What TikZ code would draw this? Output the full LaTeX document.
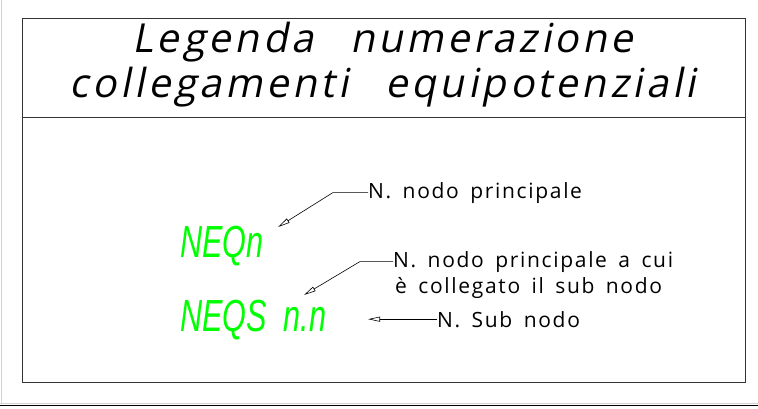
\documentclass[tikz,border=0pt]{standalone}
\usepackage{fontspec}
\usepackage{xcolor}
\usetikzlibrary{arrows.meta,positioning}

\newfontfamily\titlefont[FakeSlant=0.2,LetterSpace=9.2,WordSpace=1.3]{Open Sans}
\newfontfamily\notefont[LetterSpace=8,WordSpace=1.6]{Open Sans}
\newfontfamily\codefont[FakeStretch=0.68]{Liberation Sans}
\definecolor{cadgreen}{RGB}{0,255,0}

\begin{document}
\begin{tikzpicture}[x=1pt,y=-1pt,>={Triangle[open,length=12pt,width=5pt]},
    title text/.style={font=\titlefont\fontsize{40}{48}\selectfont,inner sep=0pt,anchor=base},
    code text/.style={font=\codefont\itshape\fontsize{45}{50}\selectfont,text=cadgreen,inner sep=0pt,anchor=base west},
    note text/.style={font=\notefont\fontsize{21}{26}\selectfont,inner sep=0pt,anchor=base west},
    leader/.style={->,line width=0.6pt}]

    \useasboundingbox (0,0) rectangle (758,408);

    % sheet edges
    \draw[gray!35] (1,0) -- (1,404);
    \draw[gray!35] (0,403.5) -- (758,403.5);
    \draw[line width=1.2pt] (0,405.5) -- (758,405.5);

    % legend frame
    \draw[line width=0.8pt,black!80] (22,18) rectangle (745,382);
    \draw[line width=0.8pt,black!80] (22,117) -- (745,117);

    \node[title text] (title1) at (383,52) {Legenda\ \ numerazione};
    \node[title text] (title2) at (383,97) {collegamenti\ \ equipotenziali};

    % node codes
    \node[code text] (neqn) at (180,257) {NEQn};
    \node[code text] (neqs) at (180,331) {NEQS\ \ n.n};

    % notes
    \node[note text] (main) at (368,198) {N. nodo principale};
    \node[note text] (link) at (393,267) {N. nodo principale a cui};
    \node[note text] (link2) at (395,293) {è collegato il sub nodo};
    \node[note text] (sub) at (437,327) {N. Sub nodo};

    \coordinate (main bend) at ([xshift=-35pt]main.west);
    \coordinate (main tip) at (278,227);
    \coordinate (link bend) at ([xshift=-33pt]link.west);
    \coordinate (link tip) at (304,295);
    \coordinate (sub tip) at ([xshift=-69pt]sub.west);

    \draw[leader] (main.west) -- (main bend) -- (main tip);
    \draw[leader] (link.west) -- (link bend) -- (link tip);
    \draw[leader] (sub.west) -- (sub tip);
\end{tikzpicture}
\end{document}
